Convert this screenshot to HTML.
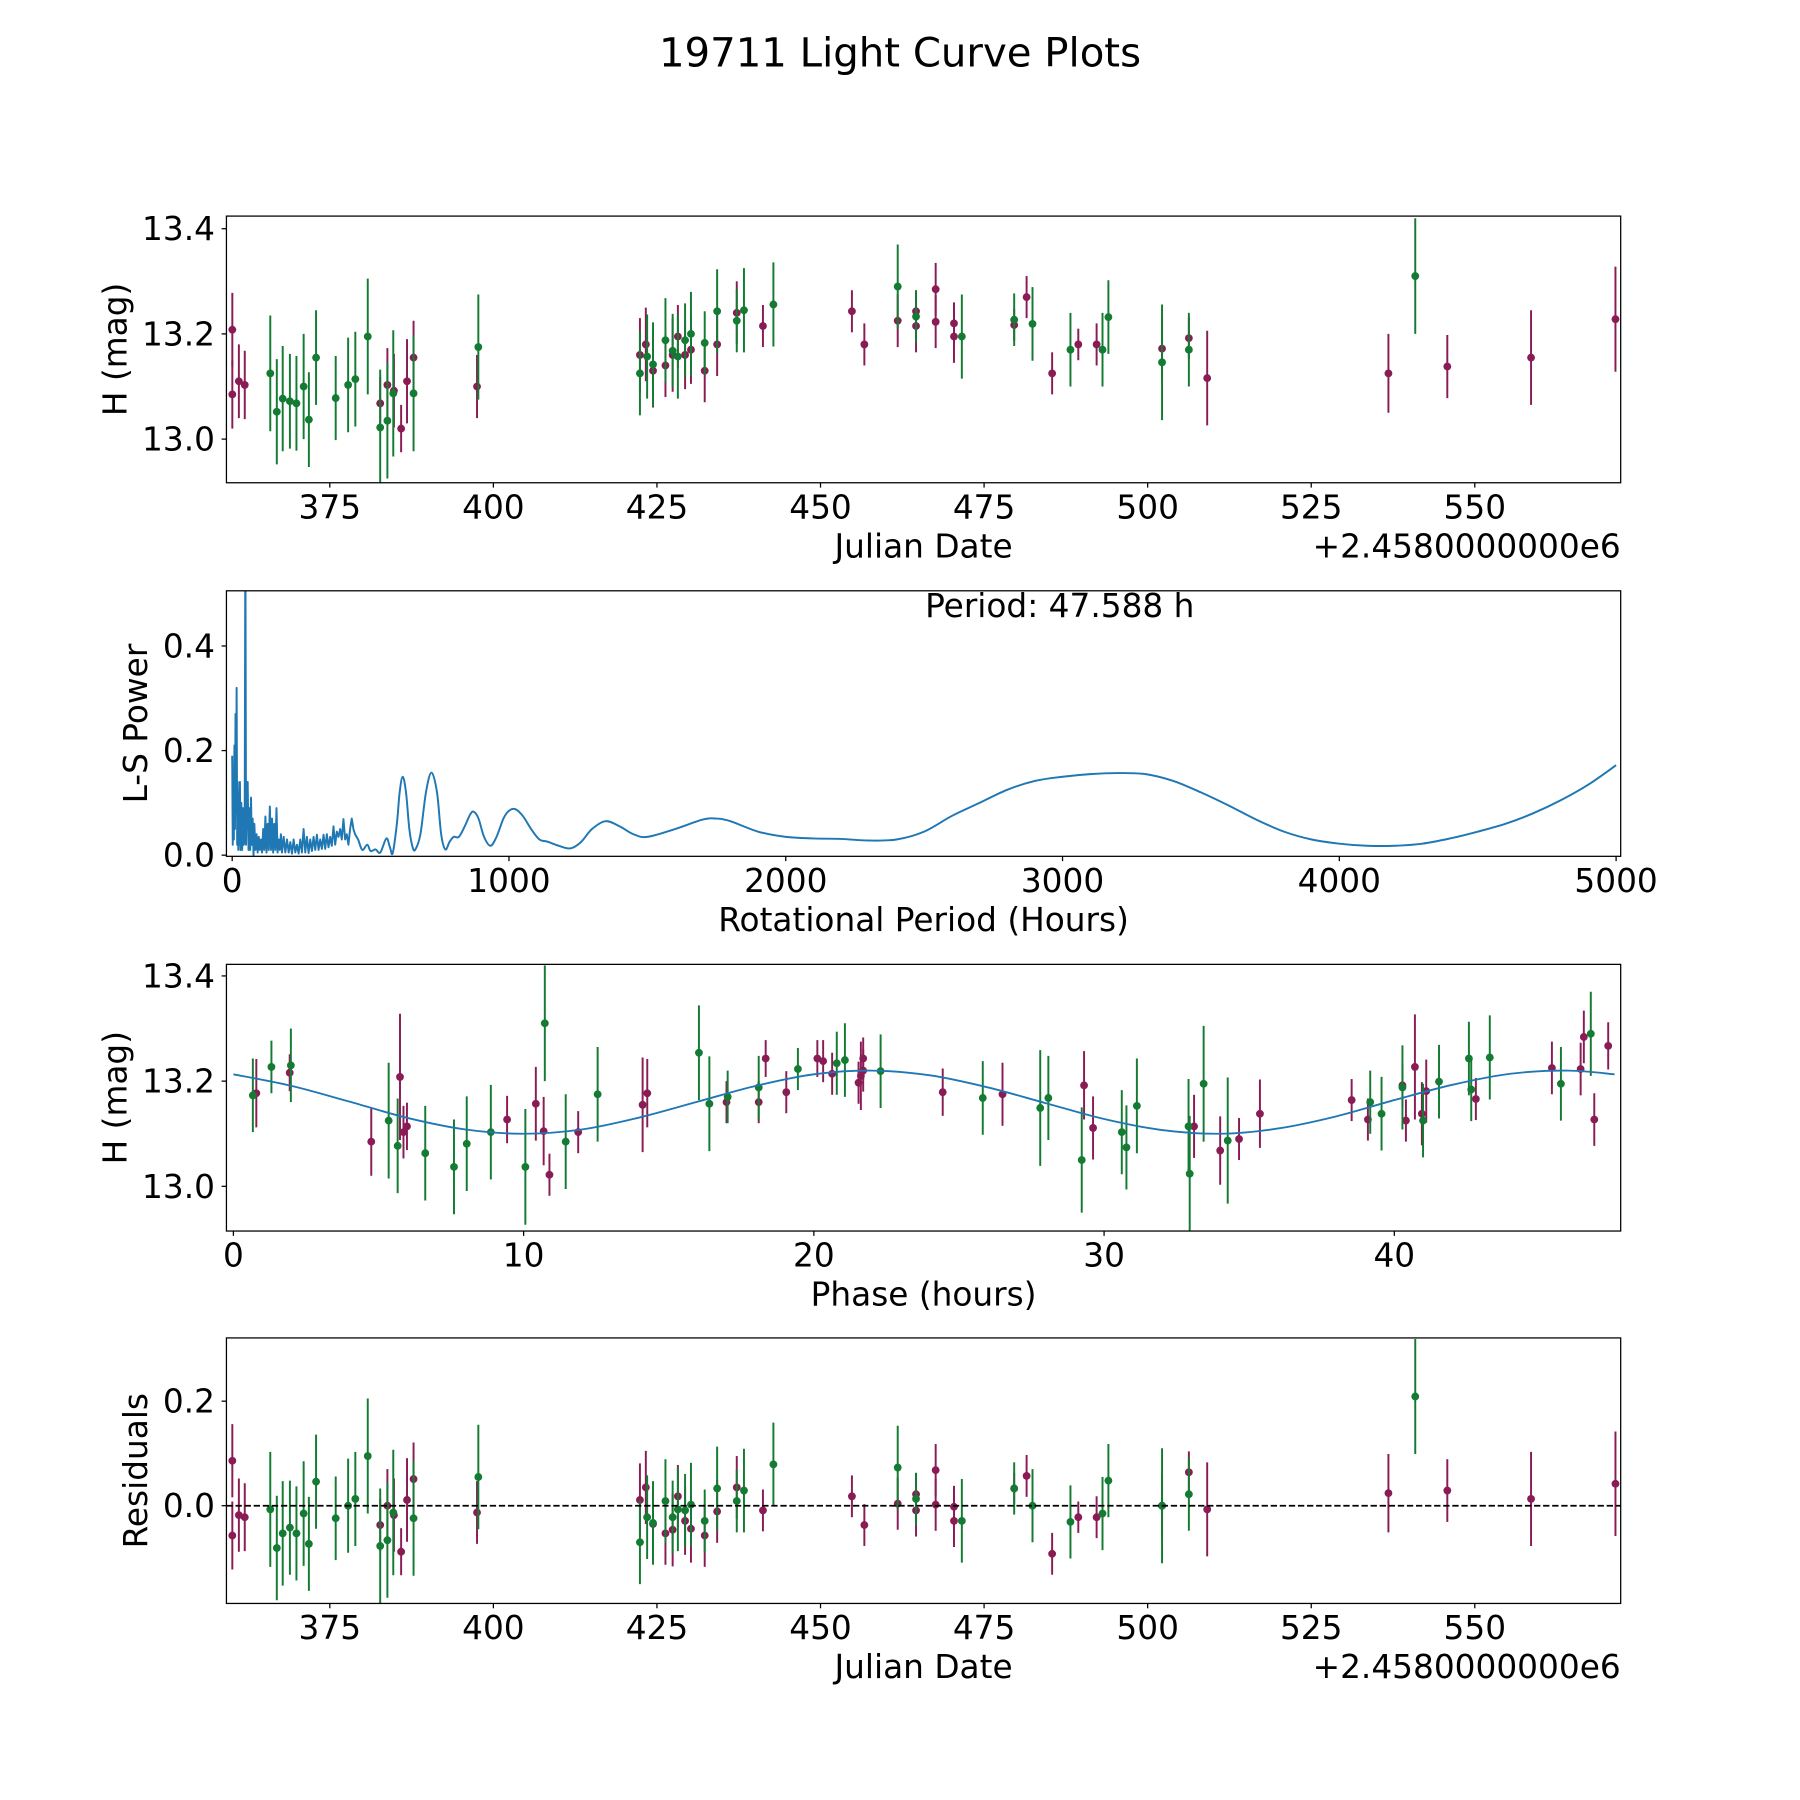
<!DOCTYPE html>
<html><head><meta charset="utf-8">
<style>
html,body{margin:0;padding:0;background:#fff;}
svg{display:block;font-family:"DejaVu Sans","Liberation Sans",sans-serif;}
</style></head>
<body>
<svg id="fig" xmlns="http://www.w3.org/2000/svg" width="1800" height="1800" viewBox="0 0 1566 1566">
<rect x="0" y="0" width="1566" height="1566" fill="#fff"/>
<text x="783" y="58" font-size="35" text-anchor="middle">19711 Light Curve Plots</text>
<defs>
<clipPath id="c1"><rect x="197" y="188" width="1213" height="232"/></clipPath>
<clipPath id="c2"><rect x="197" y="514" width="1213" height="231"/></clipPath>
<clipPath id="c3"><rect x="197" y="839" width="1213" height="232"/></clipPath>
<clipPath id="c4"><rect x="197" y="1164" width="1213" height="231"/></clipPath>
</defs>
<g id="g1"></g>
<g id="g2"></g>
<g id="g3"></g>
<g id="g4"></g>
</svg>
<script>
// ---- Panel 1 / 4 data (Julian Date offset from 2458000) ----
const jdM = [360.1,360.1,361.1,362.0,382.7,383.8,384.8,385.9,386.8,387.8,397.5,422.4,423.3,424.4,426.3,427.4,428.2,429.3,430.2,432.3,434.2,437.2,441.2,454.8,456.7,461.8,464.6,464.6,467.6,467.6,470.4,470.4,479.6,481.5,485.4,489.4,492.2,502.2,506.3,509.1,536.8,545.8,558.6,571.5];
const hM = [13.208,13.085,13.11,13.103,13.068,13.103,13.092,13.02,13.11,13.155,13.10,13.16,13.18,13.13,13.14,13.16,13.195,13.16,13.17,13.13,13.18,13.24,13.215,13.243,13.18,13.225,13.215,13.243,13.223,13.285,13.195,13.22,13.217,13.27,13.125,13.18,13.18,13.172,13.192,13.116,13.125,13.138,13.155,13.228];
const errM = [0.07,0.065,0.07,0.065,0.05,0.07,0.07,0.045,0.08,0.07,0.06,0.07,0.07,0.07,0.06,0.07,0.06,0.065,0.065,0.06,0.06,0.06,0.04,0.04,0.04,0.05,0.05,0.04,0.05,0.05,0.05,0.04,0.03,0.04,0.04,0.03,0.04,0.06,0.04,0.09,0.075,0.06,0.09,0.1];
const resM = [0.086,-0.057,-0.018,-0.022,-0.037,0.0,-0.018,-0.088,0.011,0.051,-0.013,0.011,0.035,-0.035,-0.053,-0.046,0.018,-0.029,-0.044,-0.057,-0.011,0.035,-0.009,0.018,-0.037,0.004,-0.009,0.022,0.002,0.068,-0.029,-0.002,0.033,0.057,-0.092,-0.022,-0.022,0.0,0.064,-0.007,0.024,0.029,0.013,0.042];
const jdG = [365.9,366.9,367.8,368.9,369.9,371.0,371.8,372.9,375.9,377.8,378.9,380.8,382.7,383.8,384.7,387.8,397.7,422.4,423.5,424.4,426.3,427.4,428.2,429.3,430.2,432.3,434.2,437.2,438.3,442.8,461.8,464.6,471.6,479.6,482.4,488.2,493.1,494.0,502.2,506.3,540.9];
const hG = [13.125,13.052,13.077,13.072,13.068,13.10,13.037,13.155,13.078,13.103,13.114,13.195,13.022,13.035,13.087,13.087,13.175,13.125,13.157,13.142,13.188,13.168,13.157,13.188,13.2,13.183,13.243,13.225,13.245,13.256,13.29,13.233,13.195,13.227,13.219,13.17,13.17,13.232,13.146,13.17,13.31];
const errG = [0.11,0.1,0.1,0.09,0.09,0.1,0.09,0.09,0.08,0.09,0.09,0.11,0.11,0.11,0.12,0.11,0.1,0.08,0.08,0.08,0.08,0.07,0.08,0.07,0.08,0.06,0.08,0.06,0.08,0.08,0.08,0.05,0.08,0.05,0.07,0.07,0.07,0.07,0.11,0.07,0.11];
const resG = [-0.007,-0.081,-0.053,-0.042,-0.053,-0.015,-0.073,0.046,-0.024,0.0,0.013,0.095,-0.077,-0.066,-0.013,-0.024,0.055,-0.07,-0.022,-0.033,0.009,-0.022,-0.007,-0.009,0.002,-0.029,0.033,0.009,0.029,0.079,0.073,0.013,-0.029,0.033,0.0,-0.031,-0.015,0.048,0.0,0.022,0.209];
const jdTicks = [375,400,425,450,475,500,525,550];

// ---- Panel 2 periodogram ----
const lsPeriod = [0,2,4,6,8,10,12,14,16,18,20,22,24,26,28,30,33,36,39,42,45,47.6,50,53,56,59,62,65,68,71,74,77,80,84,88,92,96,100,104,108,112,116,120,124,128,132,136,140,144,148,152,156,160,164,168,172,176,180,186,192,198,204,210,216,222,228,234,240,246,252,258,264,270,276,282,288,294,300,306,312,318,324,330,336,342,348,354,360,366,372,378,384,390,396,402,408,414,420,426,432,438,444,
455,470,488,500,518,535,557,570,580,595,605,616,628,640,652,662,680,700,720,740,755,770,785,800,819,840,860,873,890,910,933,955,980,1000,1023,1050,1080,1110,1138,1180,1222,1260,1300,1349,1400,1450,1500,1600,1700,1750,1800,1900,2000,2100,2200,2300,2400,2500,2600,2700,2800,2900,3000,3100,3200,3300,3400,3500,3600,3700,3800,3900,4000,4100,4200,4300,4400,4500,4600,4700,4800,4900,5000];
const lsPower = [0.19,0.02,0.15,0.03,0.21,0.05,0.27,0.08,0.32,0.02,0.14,0.01,0.12,0.02,0.14,0.01,0.1,0.01,0.09,0.02,0.03,0.62,0.02,0.12,0.14,0.01,0.09,0.01,0.11,0.02,0.07,0.0,0.06,0.01,0.04,0.005,0.035,0.01,0.03,0.005,0.05,0.01,0.074,0.005,0.06,0.01,0.093,0.01,0.07,0.005,0.06,0.01,0.09,0.005,0.03,0.01,0.04,0.005,0.035,0.005,0.03,0.005,0.025,0.003,0.03,0.005,0.02,0.003,0.03,0.005,0.05,0.005,0.035,0.004,0.03,0.008,0.035,0.01,0.039,0.01,0.03,0.012,0.039,0.012,0.04,0.015,0.035,0.018,0.055,0.02,0.045,0.035,0.05,0.03,0.069,0.03,0.04,0.02,0.05,0.07,0.05,0.04,
0.03,0.01,0.02,0.008,0.011,0.005,0.032,0.015,0.004,0.06,0.12,0.15,0.12,0.05,0.015,0.011,0.04,0.12,0.158,0.12,0.04,0.011,0.025,0.035,0.035,0.055,0.078,0.083,0.07,0.035,0.018,0.035,0.07,0.085,0.088,0.075,0.05,0.03,0.026,0.018,0.013,0.025,0.05,0.065,0.055,0.04,0.035,0.05,0.068,0.07,0.065,0.045,0.035,0.032,0.031,0.028,0.03,0.045,0.075,0.1,0.125,0.142,0.15,0.155,0.157,0.155,0.142,0.12,0.095,0.068,0.045,0.03,0.022,0.018,0.018,0.022,0.032,0.045,0.06,0.08,0.105,0.135,0.172];
const periodTicks = [0,1000,2000,3000,4000,5000];
const powerTicks = [0.0,0.2,0.4];

// ---- Panel 3 phased curve ----
const phM = [0.79,1.94,4.75,5.74,5.86,5.98,9.43,10.42,10.69,10.89,11.88,14.10,14.26,16.99,18.1,18.34,19.05,20.12,20.32,20.63,21.54,21.62,21.70,21.7,24.44,26.5,29.31,29.62,33.1,34.0,34.65,35.37,38.53,39.09,40.28,40.4,40.71,40.95,41.1,42.81,45.43,46.42,46.53,46.89,47.37];
const phHM = [13.177,13.216,13.085,13.208,13.103,13.114,13.127,13.157,13.105,13.022,13.103,13.155,13.177,13.16,13.16,13.243,13.179,13.243,13.238,13.214,13.197,13.21,13.243,13.22,13.179,13.175,13.192,13.111,13.114,13.068,13.09,13.138,13.164,13.127,13.192,13.125,13.227,13.138,13.181,13.166,13.225,13.223,13.284,13.127,13.267];
const phErrM = [0.065,0.035,0.065,0.12,0.05,0.045,0.045,0.07,0.065,0.04,0.04,0.09,0.065,0.04,0.04,0.035,0.04,0.035,0.04,0.04,0.04,0.065,0.04,0.04,0.045,0.06,0.065,0.06,0.06,0.065,0.04,0.065,0.04,0.04,0.04,0.04,0.1,0.06,0.06,0.04,0.05,0.05,0.05,0.05,0.045];
const phG = [0.67,1.31,1.98,5.35,5.66,6.61,7.6,8.04,8.87,10.06,10.73,11.45,12.55,16.04,16.4,17.03,18.1,19.45,20.79,21.07,22.3,25.82,27.8,28.08,29.23,30.61,30.77,31.13,32.91,32.95,33.43,34.26,39.17,39.56,40.28,40.99,41.54,42.57,42.65,43.29,45.74,46.77];
const phHG = [13.173,13.227,13.23,13.125,13.077,13.063,13.037,13.081,13.103,13.037,13.31,13.085,13.175,13.254,13.157,13.17,13.188,13.223,13.234,13.24,13.219,13.168,13.149,13.168,13.05,13.103,13.074,13.153,13.114,13.024,13.195,13.087,13.16,13.138,13.188,13.125,13.199,13.243,13.184,13.245,13.195,13.29];
const phErrG = [0.07,0.05,0.07,0.11,0.09,0.09,0.09,0.09,0.09,0.11,0.11,0.09,0.09,0.09,0.09,0.05,0.06,0.04,0.06,0.07,0.07,0.07,0.11,0.08,0.1,0.08,0.08,0.09,0.09,0.11,0.11,0.12,0.06,0.07,0.08,0.07,0.07,0.07,0.06,0.08,0.07,0.08];
const modelPhase = [0,2,4,6,8,10,12,14,16,18,20,22,24,26,28,30,32,34,36,38,40,42,44,46,47.588];
const modelH = [13.213,13.191,13.161,13.130,13.108,13.100,13.108,13.131,13.161,13.191,13.213,13.220,13.211,13.188,13.158,13.128,13.107,13.100,13.110,13.133,13.164,13.193,13.214,13.220,13.213];
const phaseTicks = [0,10,20,30,40];
const magTicks = [13.0,13.2,13.4];
const resTicks = [0.0,0.2];

const MAG = '#8a1c55', GRN = '#137b32', BLUE = '#1f77b4';
const NS = 'http://www.w3.org/2000/svg';
const FS = 28.5;
function mk(tag, attrs, parent){ const e=document.createElementNS(NS,tag); for(const k in attrs) e.setAttribute(k,attrs[k]); parent.appendChild(e); return e; }
function lin(d0,d1,r0,r1){ return v => r0 + (v-d0)/(d1-d0)*(r1-r0); }
const L=197, R=1410;

function frame(g, top, h, xs, ys, xt, yt, xfmt, yfmt, xlabel, ylabel, ylabelX, offset){
  const box = mk('rect',{x:L,y:top,width:R-L,height:h,fill:'none',stroke:'#000','stroke-width':1.1},g);
  
  
  xt.forEach(v=>{
    const x=xs(v);
    const t=mk('line',{x1:x,x2:x,y1:top+h,y2:top+h+4.2,stroke:'#000','stroke-width':1.1},g);
    
    
    const tx=mk('text',{x:x,y:top+h+31,'font-size':FS,'text-anchor':'middle'},g);
    tx.textContent=xfmt(v);
    
    
  });
  yt.forEach(v=>{
    const y=ys(v);
    const t=mk('line',{x1:L-4.2,x2:L,y1:y,y2:y,stroke:'#000','stroke-width':1.1},g);
    
    
    const tx=mk('text',{x:L-10,y:y+10,'font-size':FS,'text-anchor':'end'},g);
    tx.textContent=yfmt(v);
    
    
  });
  const xl=mk('text',{x:(L+R)/2,y:top+h+65,'font-size':FS,'text-anchor':'middle'},g);
  xl.textContent=xlabel;
  
  
  const yl=mk('text',{x:0,y:0,'font-size':FS,'text-anchor':'middle',transform:`translate(${ylabelX},${top+h/2}) rotate(-90)`},g);
  yl.textContent=ylabel;
  
  
  if(offset){
    const o=mk('text',{x:R,y:top+h+65,'font-size':FS,'text-anchor':'end'},g);
    o.textContent=offset;
    
    
  }
}
function errPoints(g, clip, xs, ys, X, Y, E, color, name){
  const pg=mk('g',{'clip-path':`url(#${clip})`},g);
  
  
  X.forEach((xv,i)=>{
    const x=xs(xv), y0=ys(Y[i]-E[i]), y1=ys(Y[i]+E[i]);
    const l=mk('line',{x1:x,x2:x,y1:y0,y2:y1,stroke:color,'stroke-width':1.7},pg);
    
    
    const c=mk('circle',{cx:x,cy:ys(Y[i]),r:3.4,fill:color},pg);
    
    
  });
}
const f1=v=>v.toFixed(1);
const fi=v=>String(v);

// Panel 1
(function(){
  const g=document.getElementById('g1');
  const xs=lin(359.2,572.3,L,R), ys=lin(12.917,13.424,420,188);
  errPoints(g,'c1',xs,ys,jdM,hM,errM,MAG,'filter-r-points');
  errPoints(g,'c1',xs,ys,jdG,hG,errG,GRN,'filter-g-points');
  frame(g,188,232,xs,ys,jdTicks,magTicks,fi,f1,'Julian Date','H (mag)',110,'+2.4580000000e6');
})();
// Panel 2
(function(){
  const g=document.getElementById('g2');
  const xs=lin(-20.8,5016.6,L,R), ys=lin(-0.0022,0.5055,745,514);
  const split=lsPeriod.indexOf(455);
  let d='M'+xs(lsPeriod[0])+','+ys(lsPower[0]);
  for(let i=1;i<=split;i++) d+=' L'+xs(lsPeriod[i]).toFixed(2)+','+ys(lsPower[i]).toFixed(2);
  const pts=lsPeriod.map((p,i)=>[xs(p),ys(lsPower[i])]);
  for(let i=split;i<pts.length-1;i++){
    const p0=pts[i-1],p1=pts[i],p2=pts[i+1],p3=pts[Math.min(i+2,pts.length-1)];
    const c1=[p1[0]+(p2[0]-p0[0])/6,p1[1]+(p2[1]-p0[1])/6];
    const c2=[p2[0]-(p3[0]-p1[0])/6,p2[1]-(p3[1]-p1[1])/6];
    d+=` C${c1[0].toFixed(2)},${c1[1].toFixed(2)} ${c2[0].toFixed(2)},${c2[1].toFixed(2)} ${p2[0].toFixed(2)},${p2[1].toFixed(2)}`;
  }
  const path=mk('path',{d:d,fill:'none',stroke:BLUE,'stroke-width':1.7,'stroke-linejoin':'round','clip-path':'url(#c2)'},g);
  
  
  frame(g,514,231,xs,ys,periodTicks,powerTicks,fi,f1,'Rotational Period (Hours)','L-S Power',128,null);
  const t=mk('text',{x:922,y:537,'font-size':FS,'text-anchor':'middle'},g);
  t.textContent='Period: 47.588 h';
  
  
})();
// Panel 3
(function(){
  const g=document.getElementById('g3');
  const xs=lin(-0.24,47.8,L,R), ys=lin(12.915,13.422,1071,839);
  const pts=modelPhase.map((p,i)=>[xs(p),ys(modelH[i])]);
  let d='M'+pts[0][0]+','+pts[0][1];
  for(let i=0;i<pts.length-1;i++){
    const p0=pts[Math.max(i-1,0)],p1=pts[i],p2=pts[i+1],p3=pts[Math.min(i+2,pts.length-1)];
    const c1=[p1[0]+(p2[0]-p0[0])/6,p1[1]+(p2[1]-p0[1])/6];
    const c2=[p2[0]-(p3[0]-p1[0])/6,p2[1]-(p3[1]-p1[1])/6];
    d+=` C${c1[0].toFixed(2)},${c1[1].toFixed(2)} ${c2[0].toFixed(2)},${c2[1].toFixed(2)} ${p2[0].toFixed(2)},${p2[1].toFixed(2)}`;
  }
  errPoints(g,'c3',xs,ys,phM,phHM,phErrM,MAG,'phased-r-points');
  errPoints(g,'c3',xs,ys,phG,phHG,phErrG,GRN,'phased-g-points');
  const path=mk('path',{d:d,fill:'none',stroke:BLUE,'stroke-width':1.6},g);
  
  
  frame(g,839,232,xs,ys,phaseTicks,magTicks,fi,f1,'Phase (hours)','H (mag)',110,null);
})();
// Panel 4
(function(){
  const g=document.getElementById('g4');
  const xs=lin(359.2,572.3,L,R), ys=lin(-0.187,0.321,1395,1164);
  errPoints(g,'c4',xs,ys,jdM,resM,errM,MAG,'residual-r-points');
  errPoints(g,'c4',xs,ys,jdG,resG,errG,GRN,'residual-g-points');
  const z=mk('line',{x1:L,x2:R,y1:ys(0),y2:ys(0),stroke:'#000','stroke-width':1.5,'stroke-dasharray':'5.5,2.4'},g);
  
  
  frame(g,1164,231,xs,ys,jdTicks,resTicks,fi,f1,'Julian Date','Residuals',128,'+2.4580000000e6');
})();
</script>
</body></html>
